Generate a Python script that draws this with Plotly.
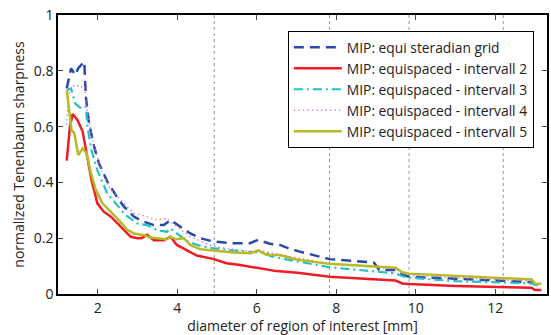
import plotly.graph_objects as go

names = ["MIP: equi steradian grid", "MIP: equispaced - intervall 2",
         "MIP: equispaced - intervall 3", "MIP: equispaced - intervall 4",
         "MIP: equispaced - intervall 5"]

blue_x = [1.22,1.33,1.43,1.51,1.66,1.70,1.78,1.91,2.03,2.24,2.45,2.66,2.91,3.16,3.41,3.66,3.83,4.08,4.33,4.58,4.91,5.41,5.83,6.03,6.33,6.58,6.83,7.08,7.83,8.5,8.95,9.08,9.49,9.66,9.83,11.0,12.91,13.0,13.16]
blue_y = [0.737,0.809,0.785,0.809,0.833,0.707,0.612,0.528,0.468,0.403,0.355,0.313,0.277,0.259,0.247,0.247,0.265,0.241,0.217,0.200,0.188,0.182,0.182,0.194,0.180,0.176,0.162,0.152,0.125,0.118,0.112,0.086,0.086,0.070,0.062,0.055,0.042,0.034,0.030]

red_x = [1.22,1.30,1.37,1.49,1.62,1.74,1.84,1.99,2.15,2.33,2.49,2.66,2.83,2.99,3.10,3.24,3.41,3.66,3.83,3.99,4.24,4.49,4.90,5.24,5.58,5.99,6.49,7.03,7.83,9.49,9.66,9.83,11.0,12.91,13.0,13.16]
red_y = [0.478,0.60,0.645,0.624,0.582,0.49,0.41,0.325,0.295,0.277,0.254,0.23,0.205,0.2,0.2,0.212,0.193,0.193,0.205,0.176,0.158,0.138,0.126,0.11,0.104,0.095,0.082,0.076,0.062,0.048,0.038,0.036,0.029,0.022,0.014,0.014]

cyan_x = [1.22,1.33,1.43,1.58,1.70,1.74,1.84,1.99,2.24,2.45,2.70,2.99,3.24,3.49,3.74,3.83,3.99,4.24,4.58,4.91,5.41,5.91,6.24,6.33,6.74,7.03,7.83,9.49,9.66,9.74,10.08,11.0,12.91,13.16]
cyan_y = [0.731,0.737,0.683,0.665,0.671,0.6,0.516,0.444,0.36,0.325,0.283,0.253,0.247,0.229,0.223,0.235,0.217,0.19,0.172,0.164,0.156,0.15,0.15,0.136,0.124,0.116,0.096,0.074,0.065,0.06,0.056,0.046,0.038,0.027]

mag_x = [1.22,1.25,1.33,1.45,1.58,1.66,1.72,1.87,2.08,2.33,2.66,2.91,3.24,3.49,3.74,3.99,4.33,4.91,5.41,5.91,6.08,6.33,7.03,7.83,9.49,9.66,9.83,11.0,12.91,13.0,13.16]
mag_y = [0.606,0.70,0.743,0.749,0.74,0.755,0.671,0.552,0.444,0.373,0.325,0.289,0.277,0.265,0.271,0.241,0.205,0.17,0.16,0.152,0.158,0.148,0.13,0.108,0.09,0.075,0.068,0.058,0.046,0.036,0.032]

yel_x = [1.22,1.34,1.41,1.51,1.62,1.72,1.83,1.95,2.12,2.33,2.53,2.74,2.91,3.16,3.30,3.49,3.70,3.83,3.99,4.16,4.33,4.58,4.90,5.41,5.85,6.03,6.24,6.58,7.0,7.83,9.49,9.66,9.83,11.0,12.91,13.0,13.16]
yel_y = [0.729,0.588,0.576,0.498,0.522,0.504,0.432,0.373,0.325,0.295,0.265,0.23,0.217,0.211,0.203,0.2,0.196,0.204,0.196,0.2,0.176,0.16,0.155,0.149,0.146,0.156,0.141,0.14,0.124,0.108,0.094,0.078,0.073,0.064,0.052,0.038,0.037]

vlines_x = [4.93, 7.83, 9.83, 12.2]
x_ticks = [2, 4, 6, 8, 10, 12]
y_ticks = [0, 0.2, 0.4, 0.6, 0.8, 1]
y_tick_text = ["0", "0.2", "0.4", "0.6", "0.8", "1"]

series = [
    (blue_x, blue_y, "#2B48A8", 2.5, "10px,6px"),
    (red_x, red_y, "#EE1C25", 2.5, "solid"),
    (cyan_x, cyan_y, "#22C2C2", 2.2, "9px,4px,2px,4px"),
    (mag_x, mag_y, "#CC70C8", 1.2, "1.5px,3px"),
    (yel_x, yel_y, "#B9B928", 2.5, "solid"),
]

fig = go.Figure()
for i, (xs, ys, c, w, d) in enumerate(series):
    fig.add_trace(go.Scatter(x=xs, y=ys, mode="lines", name=names[i],
                             legendgroup=str(i),
                             line=dict(color=c, width=w, dash=d)))

for vx in vlines_x:
    fig.add_shape(type="line", x0=vx, x1=vx, y0=0, y1=1, xref="x", yref="y",
                  line=dict(color="#999999", width=1, dash="dot"), layer="below")

font = "Open Sans, Noto Sans, sans-serif"
fig.update_layout(
    width=551, height=335,
    margin=dict(l=58, r=2, t=15, b=41),
    paper_bgcolor="white", plot_bgcolor="white",
    font=dict(family=font, size=14, color="#222222"),
    showlegend=True,
    legend=dict(x=0.47, y=0.943, xanchor="left", yanchor="top",
                bgcolor="white", bordercolor="black", borderwidth=1,
                font=dict(size=13.8, color="#222222"), tracegroupgap=0,
                itemwidth=48),
    xaxis=dict(range=[1, 13.3], tickvals=x_ticks, ticks="inside", ticklen=5,
               showline=True, linecolor="black", linewidth=1.5, mirror="ticks",
               showgrid=False, zeroline=False, tickfont=dict(size=14),
               title=dict(text="diameter of region of interest [mm]", standoff=7,
                          font=dict(size=14))),
    yaxis=dict(range=[0, 1], tickvals=y_ticks, ticktext=y_tick_text, ticks="inside",
               ticklen=5, showline=True, linecolor="black", linewidth=1.5,
               mirror="ticks", showgrid=False, zeroline=False, tickfont=dict(size=14),
               title=dict(text="normalized Tenenbaum sharpness", standoff=6,
                          font=dict(size=14))),
)

fig.write_html("out.html")
